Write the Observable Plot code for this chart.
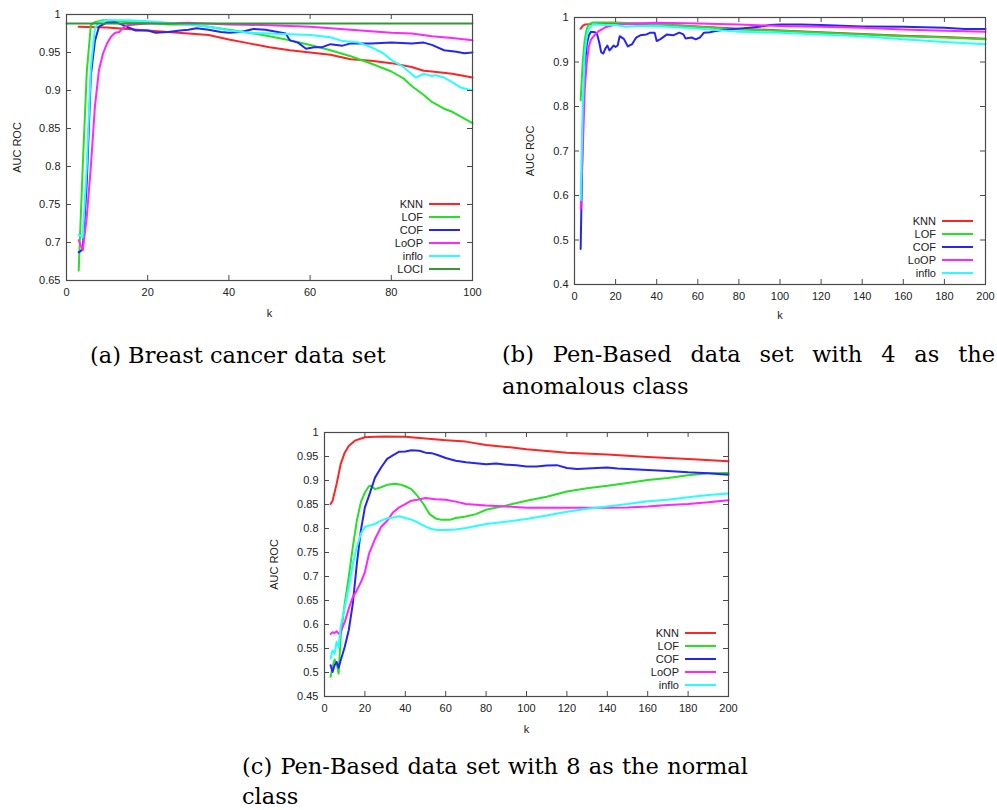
<!DOCTYPE html>
<html><head><meta charset="utf-8">
<script src="https://cdn.jsdelivr.net/npm/d3@7"></script>
<script src="https://cdn.jsdelivr.net/npm/@observablehq/plot@0.6"></script>
<style>
html,body{margin:0;padding:0;background:#fff;overflow:hidden;width:997px;height:810px;}
#root{position:relative;width:997px;height:810px;overflow:hidden;}
.panel{position:absolute;}
.capline{position:absolute;font-family:"DejaVu Serif",serif;font-size:22.5px;color:#000;line-height:24px;height:24px;white-space:nowrap;}
.just{display:flex;justify-content:space-between;}
.lg{position:absolute;font-family:"Liberation Sans",Arial,sans-serif;font-size:11px;color:#222;text-align:right;line-height:14px;height:14px;width:60px;}
.lgline{position:absolute;height:2px;}
</style></head><body><div id="root"></div>
<script>
// ---------- shared ----------
const seriesNames = ["KNN", "LOF", "COF", "LoOP", "inflo", "LOCI"];
const seriesColors = ["#ff2424", "#26e026", "#2626f2", "#ff26ff", "#26ffff", "#389538"];

// ---------- (a) Breast cancer data set ----------
const aXTicks = [0, 20, 40, 60, 80, 100];
const aYTicks = [0.65, 0.7, 0.75, 0.8, 0.85, 0.9, 0.95, 1];
const A_KNN = [[3,0.984],[10,0.983],[20,0.979],[30,0.975],[35,0.973],[40,0.967],[45,0.962],[50,0.957],[55,0.953],[60,0.950],[65,0.947],[70,0.941],[75,0.939],[80,0.936],[85,0.931],[88,0.926],[90,0.925],[95,0.922],[100,0.917]];
const A_LOF = [[3,0.663],[4,0.80],[5,0.925],[6,0.986],[7,0.990],[9,0.9925],[12,0.9917],[15,0.990],[20,0.989],[25,0.987],[30,0.987],[35,0.984],[40,0.980],[45,0.976],[50,0.9715],[55,0.966],[60,0.960],[65,0.953],[70,0.945],[75,0.9355],[80,0.925],[83,0.916],[85,0.906],[88,0.894],[90,0.885],[93,0.876],[95,0.872],[100,0.857]];
const A_COF = [[3,0.687],[4,0.691],[5,0.78],[6,0.92],[7,0.965],[8,0.984],[10,0.9895],[12,0.990],[14,0.986],[17,0.979],[20,0.979],[22,0.976],[25,0.977],[28,0.979],[30,0.980],[32,0.982],[35,0.980],[38,0.977],[40,0.976],[43,0.977],[46,0.981],[49,0.980],[52,0.977],[54,0.975],[55,0.966],[57,0.963],[59,0.955],[61,0.957],[63,0.957],[65,0.961],[68,0.959],[70,0.962],[75,0.962],[80,0.963],[85,0.962],[88,0.963],[90,0.960],[93,0.953],[96,0.951],[98,0.949],[100,0.950]];
const A_LoOP = [[3,0.703],[4,0.690],[5,0.734],[6,0.80],[7,0.879],[8,0.927],[9,0.949],[10,0.962],[11,0.971],[12,0.976],[13,0.977],[14,0.983],[15,0.986],[17,0.987],[20,0.988],[30,0.989],[40,0.987],[50,0.986],[60,0.984],[65,0.982],[70,0.980],[80,0.976],[85,0.975],[90,0.9715],[95,0.969],[100,0.966]];
const A_inflo = [[3,0.710],[4,0.707],[5,0.80],[6,0.93],[7,0.982],[8,0.990],[10,0.9925],[15,0.9925],[20,0.991],[25,0.989],[30,0.987],[35,0.984],[40,0.979],[45,0.976],[50,0.975],[55,0.974],[60,0.973],[65,0.970],[68,0.965],[72,0.963],[75,0.957],[78,0.949],[80,0.940],[83,0.931],[86,0.917],[88,0.922],[90,0.919],[91,0.920],[93,0.917],[95,0.911],[97,0.904],[100,0.900]];
const A_LOCI = [[0,0.988],[100,0.988]];

// ---------- (b) Pen-Based, 4 anomalous ----------
const bXTicks = [0, 20, 40, 60, 80, 100, 120, 140, 160, 180, 200];
const bYTicks = [0.4, 0.5, 0.6, 0.7, 0.8, 0.9, 1];
const B_KNN = [[3,0.975],[4,0.981],[5,0.984],[8,0.985],[20,0.9865],[40,0.985],[60,0.980],[80,0.975],[100,0.971],[120,0.967],[140,0.963],[160,0.959],[180,0.956],[200,0.952]];
const B_LOF = [[3,0.814],[4,0.90],[5,0.95],[6,0.975],[7,0.985],[9,0.989],[20,0.989],[40,0.985],[60,0.979],[80,0.973],[100,0.970],[120,0.9655],[140,0.962],[160,0.958],[180,0.955],[200,0.951]];
const B_COF = [[3,0.48],[4,0.75],[5,0.89],[6,0.94],[7,0.96],[8,0.968],[10,0.967],[11,0.962],[12,0.945],[13,0.922],[14,0.919],[15,0.93],[16,0.937],[17,0.926],[18,0.931],[19,0.937],[20,0.934],[21,0.937],[22,0.958],[24,0.952],[26,0.935],[28,0.94],[30,0.955],[32,0.96],[35,0.962],[37,0.966],[39,0.966],[40,0.947],[42,0.952],[45,0.962],[48,0.960],[51,0.966],[53,0.962],[54,0.953],[57,0.955],[59,0.951],[61,0.955],[63,0.966],[66,0.967],[68,0.969],[72,0.972],[80,0.975],[90,0.979],[95,0.983],[100,0.984],[110,0.984],[120,0.983],[140,0.980],[160,0.979],[180,0.977],[190,0.974],[200,0.974]];
const B_LoOP = [[3,0.57],[4,0.70],[5,0.84],[6,0.90],[7,0.935],[8,0.95],[10,0.962],[12,0.970],[15,0.978],[20,0.984],[30,0.9865],[40,0.988],[60,0.9865],[80,0.984],[100,0.981],[120,0.979],[140,0.977],[160,0.973],[180,0.970],[200,0.968]];
const B_inflo = [[3,0.59],[4,0.80],[5,0.92],[6,0.96],[7,0.975],[9,0.985],[15,0.983],[20,0.983],[25,0.979],[30,0.981],[40,0.981],[60,0.975],[80,0.968],[100,0.966],[120,0.962],[140,0.958],[160,0.951],[180,0.945],[200,0.940]];

// ---------- (c) Pen-Based, 8 normal ----------
const cXTicks = [0, 20, 40, 60, 80, 100, 120, 140, 160, 180, 200];
const cYTicks = [0.45, 0.5, 0.55, 0.6, 0.65, 0.7, 0.75, 0.8, 0.85, 0.9, 0.95, 1];
const C_KNN = [[3,0.851],[4,0.858],[6,0.893],[8,0.934],[10,0.958],[12,0.972],[15,0.983],[20,0.990],[25,0.991],[30,0.9917],[40,0.991],[50,0.9875],[60,0.984],[70,0.981],[80,0.974],[90,0.970],[100,0.965],[120,0.958],[140,0.954],[160,0.949],[180,0.945],[200,0.940]];
const C_LOF = [[3,0.491],[4,0.512],[5,0.527],[6,0.519],[7,0.498],[8,0.574],[10,0.643],[12,0.699],[14,0.761],[16,0.816],[18,0.855],[20,0.875],[22,0.888],[23,0.889],[25,0.882],[28,0.886],[31,0.891],[35,0.893],[38,0.891],[40,0.888],[43,0.882],[46,0.868],[49,0.851],[52,0.830],[55,0.821],[58,0.818],[62,0.818],[65,0.822],[70,0.825],[75,0.830],[80,0.839],[90,0.848],[100,0.858],[110,0.866],[120,0.877],[130,0.884],[140,0.889],[150,0.895],[160,0.901],[170,0.905],[180,0.911],[190,0.915],[200,0.9155]];
const C_COF = [[3,0.515],[4,0.501],[5,0.515],[6,0.522],[7,0.510],[8,0.525],[10,0.553],[12,0.588],[14,0.643],[16,0.726],[18,0.796],[20,0.844],[22,0.868],[25,0.906],[28,0.927],[31,0.945],[34,0.953],[37,0.960],[40,0.9605],[43,0.963],[47,0.962],[50,0.958],[53,0.957],[56,0.953],[60,0.947],[65,0.941],[70,0.938],[75,0.936],[80,0.934],[85,0.9355],[90,0.933],[95,0.932],[100,0.929],[105,0.929],[110,0.931],[115,0.932],[120,0.926],[125,0.924],[130,0.925],[135,0.926],[140,0.927],[145,0.925],[150,0.924],[160,0.922],[170,0.920],[180,0.917],[190,0.915],[200,0.912]];
const C_LoOP = [[3,0.580],[4,0.584],[5,0.582],[6,0.586],[7,0.581],[8,0.584],[10,0.605],[12,0.633],[14,0.657],[16,0.671],[18,0.688],[20,0.709],[22,0.747],[25,0.778],[28,0.803],[31,0.816],[34,0.834],[37,0.844],[40,0.851],[43,0.858],[46,0.860],[50,0.8635],[55,0.861],[60,0.860],[65,0.856],[70,0.851],[80,0.848],[90,0.846],[100,0.843],[110,0.843],[120,0.843],[130,0.843],[140,0.843],[150,0.844],[160,0.846],[170,0.849],[180,0.851],[190,0.8545],[200,0.859]];
const C_inflo = [[3,0.529],[4,0.546],[5,0.539],[6,0.564],[7,0.553],[8,0.595],[10,0.636],[12,0.678],[14,0.726],[16,0.761],[18,0.789],[20,0.803],[22,0.806],[25,0.8095],[28,0.8165],[31,0.821],[34,0.823],[37,0.8255],[40,0.822],[43,0.8185],[46,0.813],[50,0.804],[53,0.799],[56,0.797],[60,0.797],[65,0.798],[70,0.801],[80,0.8095],[90,0.814],[100,0.820],[110,0.827],[120,0.835],[130,0.841],[140,0.846],[150,0.851],[160,0.857],[170,0.860],[180,0.865],[190,0.870],[200,0.873]];

// ---------- layout (styles only) ----------
const panels = [
  {left: 0, top: 0, width: 490, height: 320, mL: 66, mR: 18, mT: 14, mB: 40, kDy: 33, yDx: -49,
   xDomain: [0, 100], yDomain: [0.65, 1], xTicks: aXTicks, yTicks: aYTicks,
   series: [A_KNN, A_LOF, A_COF, A_LoOP, A_inflo, A_LOCI]},
  {left: 500, top: 0, width: 497, height: 320, mL: 74, mR: 12, mT: 17, mB: 36, kDy: 31, yDx: -44,
   xDomain: [0, 200], yDomain: [0.4, 1], xTicks: bXTicks, yTicks: bYTicks,
   series: [B_KNN, B_LOF, B_COF, B_LoOP, B_inflo]},
  {left: 260, top: 420, width: 480, height: 320, mL: 64, mR: 12, mT: 12, mB: 44, kDy: 33, yDx: -50,
   xDomain: [0, 200], yDomain: [0.45, 1], xTicks: cXTicks, yTicks: cYTicks,
   series: [C_KNN, C_LOF, C_COF, C_LoOP, C_inflo]}
];

const root = document.getElementById("root");
const frameColor = "#4a4a4a";
const tickFmt = d => String(d);

panels.forEach(p => {
  const names = seriesNames.slice(0, p.series.length);
  const rows = [];
  p.series.forEach((s, i) => s.forEach(([k, v]) => rows.push({k, v, s: names[i]})));
  const innerW = p.width - p.mL - p.mR;
  const innerH = p.height - p.mT - p.mB;
  const chart = Plot.plot({
    width: p.width, height: p.height,
    marginLeft: p.mL, marginRight: p.mR, marginTop: p.mT, marginBottom: p.mB,
    style: {fontFamily: "'Liberation Sans', Arial, sans-serif", fontSize: "11px", color: "#222", background: "transparent", overflow: "visible"},
    x: {domain: p.xDomain, label: null},
    y: {domain: p.yDomain, label: null},
    color: {domain: seriesNames, range: seriesColors},
    marks: [
      Plot.line(rows, {x: "k", y: "v", z: "s", stroke: "s", strokeWidth: 2, strokeLinejoin: "round"}),
      Plot.frame({stroke: frameColor, strokeWidth: 1.2}),
      Plot.tickX(p.xTicks, {x: d => d, stroke: frameColor, insetTop: innerH - 5}),
      Plot.tickX(p.xTicks, {x: d => d, stroke: frameColor, insetBottom: innerH - 5}),
      Plot.tickY(p.yTicks, {y: d => d, stroke: frameColor, insetRight: innerW - 5}),
      Plot.tickY(p.yTicks, {y: d => d, stroke: frameColor, insetLeft: innerW - 5}),
      Plot.axisX(p.xTicks, {tickSize: 0, tickPadding: 8, tickFormat: tickFmt, label: null}),
      Plot.axisY(p.yTicks, {tickSize: 0, tickPadding: 6, tickFormat: tickFmt, label: null}),
      Plot.text(["k"], {text: d => d, frameAnchor: "bottom", dy: p.kDy, textAnchor: "middle", lineAnchor: "middle", fill: "#222"}),
      Plot.text(["AUC ROC"], {text: d => d, frameAnchor: "left", dx: p.yDx, rotate: -90, textAnchor: "middle", lineAnchor: "middle", fill: "#222"})
    ]
  });
  chart.classList.add("panel");
  chart.style.left = p.left + "px";
  chart.style.top = p.top + "px";
  root.appendChild(chart);

  // legend (gnuplot style key inside bottom-right)
  const fr = p.left + p.width - p.mR;
  const fb = p.top + p.height - p.mB;
  names.forEach((n, i) => {
    const cy = fb - 11.5 - (names.length - 1 - i) * 13;
    const t = document.createElement("div");
    t.className = "lg";
    t.textContent = n;
    t.style.left = (fr - 49 - 60) + "px";
    t.style.top = (cy - 7) + "px";
    root.appendChild(t);
    const l = document.createElement("div");
    l.className = "lgline";
    l.style.left = (fr - 43) + "px";
    l.style.width = "31px";
    l.style.top = (cy - 1) + "px";
    l.style.background = seriesColors[i];
    root.appendChild(l);
  });
});

// ---------- captions ----------
const captions = [
  {left: 90, center: 355, width: null, text: "(a) Breast cancer data set"},
  {left: 502, center: 354, width: 493, text: "(b) Pen-Based data set with 4 as the"},
  {left: 502, center: 386, width: null, text: "anomalous class"},
  {left: 242, center: 766, width: 506, text: "(c) Pen-Based data set with 8 as the normal"},
  {left: 242, center: 796, width: null, text: "class"}
];
captions.forEach(c => {
  const d = document.createElement("div");
  d.className = "capline";
  d.style.left = c.left + "px";
  d.style.top = (c.center - 12) + "px";
  if (c.width) {
    d.classList.add("just");
    d.style.width = c.width + "px";
    c.text.split(" ").forEach(w => {
      const s = document.createElement("span");
      s.textContent = w;
      d.appendChild(s);
    });
  } else {
    d.textContent = c.text;
  }
  root.appendChild(d);
});
</script></body></html>
